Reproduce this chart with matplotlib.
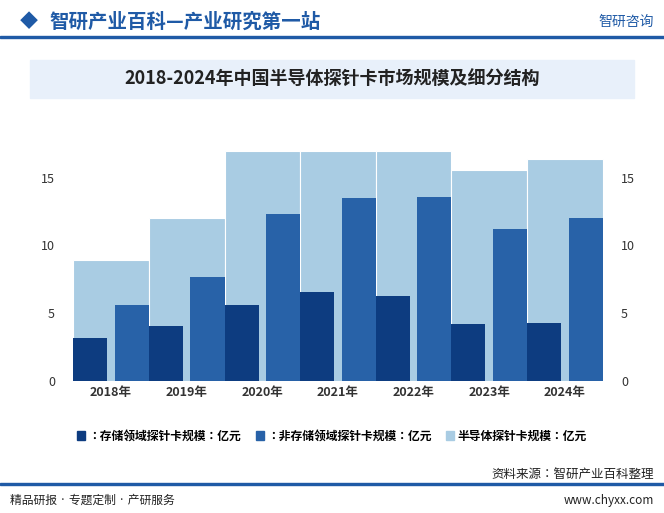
import numpy as np
import matplotlib
matplotlib.use('Agg')
import matplotlib.pyplot as plt
from matplotlib.patches import Rectangle
from matplotlib import font_manager

names = {f.name for f in font_manager.fontManager.ttflist}
cjk = [n for n in ['Noto Sans CJK SC', 'Noto Sans CJK JP', 'Noto Sans CJK TC', 'Noto Sans CJK KR']
       if n in names]
plt.rcParams['font.family'] = cjk + ['DejaVu Sans']

years = ['2018年', '2019年', '2020年', '2021年', '2022年', '2023年', '2024年']
storage = [3.2, 4.1, 5.6, 6.6, 6.3, 4.2, 4.3]
non_storage = [5.6, 7.7, 12.3, 13.5, 13.6, 11.2, 12.0]
total = [8.9, 12.0, 17.0, 17.0, 17.0, 15.6, 16.4]

c_light = '#a9cce3'
c_mid = '#2862a8'
c_dark = '#0d3c80'

fig = plt.figure(figsize=(6.64, 5.13), dpi=100)

# header
fig.text(0.03, 0.957, '◆', color='#1f5aa6', fontsize=13, va='center')
fig.text(0.075, 0.957, '智研产业百科—产业研究第一站', color='#1f5aa6', fontsize=14,
         fontweight='bold', va='center')
fig.text(0.985, 0.957, '智研咨询', color='#1f5aa6', fontsize=10, va='center', ha='right')
fig.add_artist(Rectangle((0, 0.925), 1, 0.004, color='#1f5aa6', transform=fig.transFigure))
fig.add_artist(Rectangle((0.045, 0.808), 0.91, 0.075, color='#e8f0fa', transform=fig.transFigure))
fig.text(0.5, 0.845, '2018-2024年中国半导体探针卡市场规模及细分结构', fontsize=13,
         fontweight='bold', ha='center', va='center', color='#222222')

ax = fig.add_axes([0.108, 0.257, 0.802, 0.484])
x = np.arange(len(years))
ax.bar(x, total, width=1.0, color=c_light, edgecolor='white', linewidth=0.8, zorder=1)
ax.bar(x - 0.275, storage, width=0.45, color=c_dark, zorder=2)
ax.bar(x + 0.275, non_storage, width=0.45, color=c_mid, zorder=2)
ax.set_xlim(-0.52, 6.52)
ax.set_ylim(0, 18.3)
ax.set_yticks([0, 5, 10, 15])
ax.set_xticks(x)
ax.set_xticklabels(years, fontsize=9, fontweight='bold')
for s in ax.spines.values():
    s.set_visible(False)
ax.tick_params(length=0, labelsize=9, colors='#333333')
ax.tick_params(axis='y', labelright=True, pad=12)

handles = [Rectangle((0, 0), 1, 1, color=c) for c in (c_dark, c_mid, c_light)]
fig.legend(handles, ['：存储领域探针卡规模：亿元', '：非存储领域探针卡规模：亿元', '半导体探针卡规模：亿元'],
           loc='center', bbox_to_anchor=(0.5, 0.15), ncol=3, frameon=False,
           prop={'size': 8.5, 'weight': 'bold'}, handlelength=0.7, handleheight=0.7,
           columnspacing=1.2, handletextpad=0.3)

fig.text(0.985, 0.075, '资料来源：智研产业百科整理', fontsize=9, ha='right', va='center', color='#222222')
fig.add_artist(Rectangle((0, 0.055), 1, 0.003, color='#1f5aa6', transform=fig.transFigure))
fig.text(0.015, 0.025, '精品研报 · 专题定制 · 产研服务', fontsize=8.5, va='center', color='#222222')
fig.text(0.985, 0.025, 'www.chyxx.com', fontsize=8.5, va='center', ha='right', color='#222222')

fig.savefig('out.png', dpi=100)
